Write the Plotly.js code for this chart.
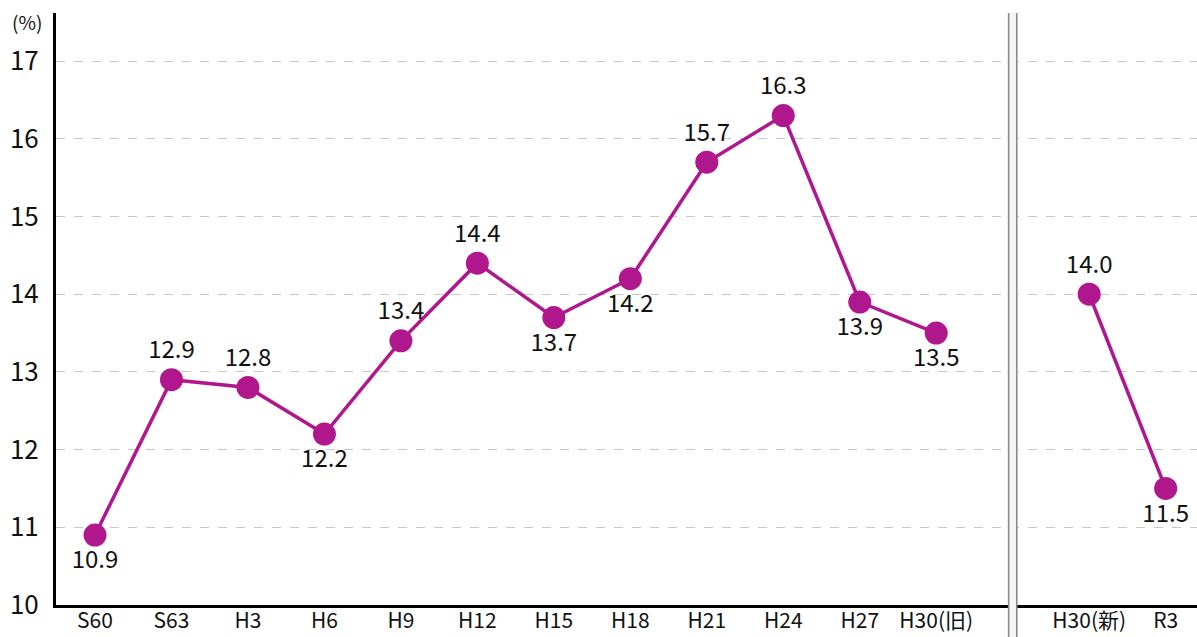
<!DOCTYPE html>
<html>
<head>
<meta charset="utf-8">
<script src="https://cdn.plot.ly/plotly-3.0.1.min.js"></script>
<style>html,body{margin:0;padding:0;background:#fff;}#chart{width:1197px;height:637px;}</style>
</head>
<body>
<div id="chart"></div>
<script>
// Data
const categoriesOld = ["S60","S63","H3","H6","H9","H12","H15","H18","H21","H24","H27","H30(旧)"];
const valuesOld = [10.9, 12.9, 12.8, 12.2, 13.4, 14.4, 13.7, 14.2, 15.7, 16.3, 13.9, 13.5];
const categoriesNew = ["H30(新)", "R3"];
const valuesNew = [14.0, 11.5];
const yTicks = [10, 11, 12, 13, 14, 15, 16, 17];

// Style / layout
const color = "#B0178D";
const font = "'Noto Sans CJK JP', 'Noto Sans', sans-serif";
const posOld = ["bottom center","top center","top center","bottom center","top center","top center","bottom center","bottom center","top center","top center","bottom center","bottom center"];
const posNew = ["top center","bottom center"];

const xOld = categoriesOld.map((_, i) => i);
const gapIndex = categoriesOld.length; // separator slot
const xNew = categoriesNew.map((_, i) => gapIndex + 1 + i);

const traceStyle = {
  type: "scatter", mode: "lines+markers+text",
  line: {color: color, width: 3.5},
  marker: {color: color, size: 23},
  textfont: {family: font, size: 24, color: "#111"},
  cliponaxis: false, hoverinfo: "skip", showlegend: false
};

const data = [
  Object.assign({}, traceStyle, {
    x: xOld, y: valuesOld, text: valuesOld.map(v => v.toFixed(1)), textposition: posOld
  }),
  Object.assign({}, traceStyle, {
    x: xNew, y: valuesNew, text: valuesNew.map(v => v.toFixed(1)), textposition: posNew
  })
];

const sepHalf = 0.053;
const layout = {
  width: 1197, height: 637,
  margin: {l: 56, r: 0, t: 13, b: 32},
  paper_bgcolor: "#fff", plot_bgcolor: "#fff",
  font: {family: font, size: 20, color: "#111"},
  xaxis: {
    range: [-0.51, 14.41],
    tickvals: xOld.concat(xNew),
    ticktext: categoriesOld.concat(categoriesNew),
    showgrid: false, zeroline: false,
    showline: true, linecolor: "#000", linewidth: 3,
    ticks: "", ticklabelstandoff: -5,
    tickfont: {family: font, size: 21, color: "#111"}
  },
  yaxis: {
    range: [10, 17.62],
    tickvals: yTicks,
    showgrid: true, gridcolor: "#c8c8c8", griddash: "dash", gridwidth: 1,
    zeroline: false,
    showline: true, linecolor: "#000", linewidth: 3,
    ticks: "", ticklabelstandoff: 9,
    tickfont: {family: font, size: 26, color: "#111"}
  },
  shapes: [
    {type: "rect", xref: "x", yref: "paper", x0: gapIndex - sepHalf, x1: gapIndex + sepHalf, y0: -0.06, y1: 1,
     fillcolor: "#f5f5f5", line: {width: 0}, layer: "above"},
    {type: "line", xref: "x", yref: "paper", x0: gapIndex - sepHalf, x1: gapIndex - sepHalf, y0: -0.06, y1: 1,
     line: {color: "#8a8a8a", width: 1.6}, layer: "above"},
    {type: "line", xref: "x", yref: "paper", x0: gapIndex + sepHalf, x1: gapIndex + sepHalf, y0: -0.06, y1: 1,
     line: {color: "#8a8a8a", width: 1.6}, layer: "above"}
  ],
  annotations: [
    {text: "(%)", xref: "paper", yref: "paper", x: -0.0255, y: 0.985, xanchor: "center", yanchor: "middle",
     showarrow: false, font: {family: font, size: 19, color: "#111"}}
  ]
};

Plotly.newPlot("chart", data, layout, {displayModeBar: false, staticPlot: true});
</script>
</body>
</html>
